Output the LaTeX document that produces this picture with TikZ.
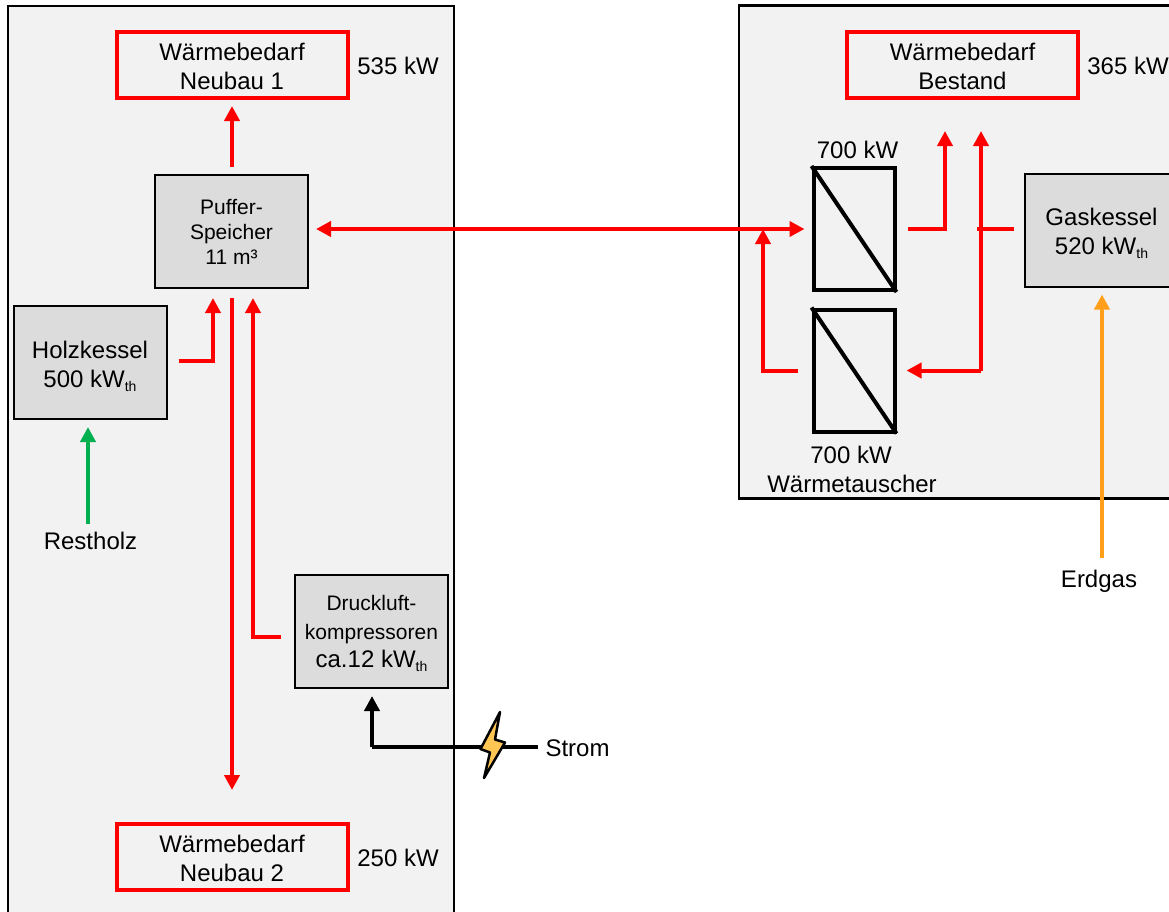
\documentclass[tikz,border=0pt]{standalone}
\usepackage{fontspec}
\setmainfont{Liberation Sans}
\usetikzlibrary{arrows.meta}
\definecolor{panelgray}{HTML}{F2F2F2}
\definecolor{boxgray}{HTML}{DCDCDC}
\definecolor{woodgreen}{HTML}{00B050}
\definecolor{gasorange}{HTML}{FF9F1A}
\definecolor{boltyellow}{HTML}{FFC654}
\newcommand{\thsub}{\smash{\raisebox{-4pt}{\fontsize{14}{14}\selectfont th}}}
\newcommand{\pushdown}[1]{\rule{0pt}{\dimexpr 17.5pt+#1\relax}}
\tikzset{
  x=1pt,y=-1pt,
  panel/.style={draw=black,line width=2.5pt,fill=panelgray},
  demand/.style={draw=red,line width=4pt,fill=panelgray,minimum width=231pt,minimum height=66pt,inner sep=0pt,align=center,font=\fontsize{24}{29}\selectfont},
  plant/.style={draw=black,line width=2pt,fill=boxgray,minimum width=153pt,minimum height=113pt,inner sep=0pt,align=center,font=\fontsize{24}{29}\selectfont},
  smallplant/.style={plant,font=\fontsize{21}{25}\selectfont},
  exchanger/.style={draw=black,line width=4pt,fill=panelgray,minimum width=81pt,minimum height=122pt,inner sep=0pt},
  label/.style={inner sep=0pt,align=center,font=\fontsize{24}{29}\selectfont},
  flow/.style={line width=4pt,color=red,-{Triangle[length=15pt,width=15pt]}},
  bothflow/.style={line width=4pt,color=red,{Triangle[length=15pt,width=15pt]}-{Triangle[length=15pt,width=15pt]}},
  plainflow/.style={line width=4pt,color=red},
  feed/.style={line width=4pt,-{Triangle[length=15pt,width=15pt]}},
}
\begin{document}
\begin{tikzpicture}
\clip (0,0) rectangle (1169,911);
\useasboundingbox (0,0) rectangle (1169,911);
% panels
\draw[panel] (8,6) rectangle (454,930);
\draw[panel] (739,5.5) rectangle (1200,498.5);
% nodes, left
\node[demand] (n1) at (232,65) {\pushdown{2pt}Wärmebedarf\\Neubau 1};
\node[demand] (n2) at (232,857) {\pushdown{2pt}Wärmebedarf\\Neubau 2};
\node[smallplant] (puffer) at (231.5,231.5) {Puffer-\\Speicher\\11 m³};
\node[plant] (holz) at (90,362.5) {\pushdown{4pt}Holzkessel\\500 kW\thsub};
\node[smallplant] (druck) at (371.5,631.5) {Druckluft-\\[4pt]kompressoren\\[3pt]{\fontsize{24}{29}\selectfont ca.12 kW\thsub}};
\node[label] (l535) at (398,66) {535 kW};
\node[label] (l250) at (398,858) {250 kW};
\node[label] (rest) at (90.5,540.5) {Restholz};
\node[label] (strom) at (577.5,748) {Strom};
% nodes, right
\node[demand] (best) at (962.5,65) {\pushdown{2pt}Wärmebedarf\\Bestand};
\node[plant] (gas) at (1101.5,230) {\pushdown{3pt}Gaskessel\\520 kW\thsub};
\node[exchanger] (hx1) at (854,229) {};
\node[exchanger] (hx2) at (854,370.5) {};
\draw[line width=4pt] (hx1.north west) -- (hx1.south east);
\draw[line width=4pt] (hx2.north west) -- (hx2.south east);
\node[label] (l700a) at (857.5,149.5) {700 kW};
\node[label] (l700b) at (851,454.5) {700 kW};
\node[label] (tausch) at (852,483.5) {Wärmetauscher};
\node[label] (l365) at (1128,66) {365 kW};
\node[label] (erd) at (1099,581.5) {Erdgas};
% free connector ends
\coordinate (pin1) at (213,298);
\coordinate (pin2) at (253,298);
\coordinate (up1) at (945,131);
\coordinate (up2) at (981,131);
\coordinate (hxjoin) at (763,229);
\coordinate (gasjoin) at (977,229);
\coordinate (strombend) at (372,747);
\coordinate (stromend) at (538,747);
% connectors, left
\draw[flow,shorten <=7pt,shorten >=6pt] (puffer.north -| n1.south) -- (n1.south);
\draw[flow] ([xshift=11pt,yshift=1.5pt]holz.east) -| (pin1);
\draw[flow] ([xshift=-13pt,yshift=-5.5pt]druck.west) -| (pin2);
\draw[flow,shorten >=32pt] (232,298) -- (n2.north);
\draw[bothflow,shorten <=7pt,shorten >=7pt] ([yshift=2.5pt]puffer.east) -- (hx1.west);
\draw[feed,woodgreen] (88,524) -- ([xshift=-2pt,yshift=-7pt]holz.south);
\draw[feed,gasorange,shorten >=7pt] (1102,558) -- (gas.south -| 1102,0);
\draw[line width=4pt] (stromend) -- (strombend);
\draw[feed] (strombend) -- ([xshift=.5pt,yshift=-7pt]druck.south);
\draw[line width=2.5pt,fill=boltyellow,line join=round] (500,712) -- (480.5,749) -- (490,752.5) -- (484,778) -- (505,742.5) -- (495,739.5) -- cycle;
% connectors, right
\draw[flow] ([xshift=11pt]hx1.east) -| (up1);
\draw[plainflow] ([xshift=-10pt,yshift=1pt]gas.west) -- (gasjoin);
\draw[flow,shorten >=10pt] (up2 |- hx2.east) -- (hx2.east);
\draw[plainflow] (up2 |- hx2.east) -- (up2 |- gasjoin);
\draw[flow] (up2 |- gasjoin) -- (up2);
\draw[flow] ([xshift=-14pt]hx2.west) -| (hxjoin);
\end{tikzpicture}
\end{document}
